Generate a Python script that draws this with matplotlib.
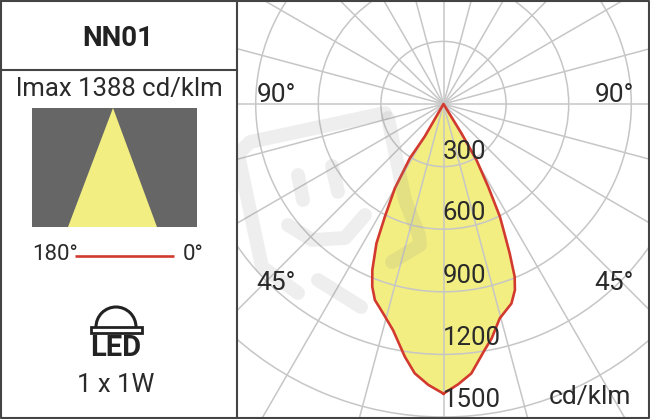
import numpy as np
import matplotlib
matplotlib.use('Agg')
import matplotlib.pyplot as plt
from matplotlib.patches import Rectangle, Polygon, Arc

plt.rcParams['font.family'] = ['Roboto', 'DejaVu Sans']

# photometric curve (degrees from nadir, cd/klm)
# right half first, going up from the nadir, then the left half back down
gamma_right = [0, 3.0, 5.9, 9.5, 11.6, 14.7, 18.8, 21, 22.4, 23.9, 25.1, 26.6, 28.4, 30.5, 31.5, 31]
intensity_right = [1388, 1345, 1298, 1195, 1147, 1062, 1010, 955, 895, 783, 693, 604, 450, 311, 165, 0]
gamma_left = [-30, -31.8, -30, -27.5, -25.7, -23.2, -21.3, -19.3, -16.1, -12.6, -8.7, -6.1, -3.1]
intensity_left = [180, 306, 466, 608, 741, 866, 940, 995, 1044, 1110, 1225, 1298, 1348]
ring_values = [300, 600, 900, 1200, 1500]
ring_labels = ['300', '600', '900', '1200', '1500']
angle_labels = ['90°', '90°', '45°', '45°']

W, H = 650, 419
cx, cy = 443.5, 104
px_per_unit = 62.6 / 300
rmax = 2400

fig = plt.figure(figsize=(W / 100, H / 100), dpi=100, facecolor='white')

# polar diagram, much bigger than the panel so only the middle shows
R = rmax * px_per_unit
ax = fig.add_axes([(cx - R) / W, 1 - (cy + R) / H, 2 * R / W, 2 * R / H],
                  projection='polar')
ax.set_theta_zero_location('S')
ax.set_rlim(0, rmax)
ax.set_thetagrids(range(0, 360, 15), labels=[])
ax.set_rgrids(ring_values, labels=[])
ax.grid(True, color='#c6c6c6', lw=1.1)
ax.spines['polar'].set_visible(False)
ax.tick_params(length=0)
theta = np.radians(gamma_right + gamma_left)
intensity = intensity_right + intensity_left
ax.fill(theta, intensity, color='#f2ee82', zorder=1)
ax.set_axisbelow(False)
ax.plot(np.append(theta, theta[0]), intensity + intensity[:1], color='#d33a2f',
        lw=1.9, zorder=4, solid_joinstyle='round')

# overlay in pixel coordinates for the frame, labels and side panel
ov = fig.add_axes([0, 0, 1, 1], facecolor='none')
ov.set_xlim(0, W)
ov.set_ylim(H, 0)
ov.axis('off')

# watermark
wm = dict(color='#8c8c8c', alpha=0.14, lw=10, solid_capstyle='round', solid_joinstyle='round')
ov.plot([385, 250, 238, 262, 298], [113, 142, 154, 267, 293], **wm)
ov.plot([388, 405, 419, 420, 392], [118, 200, 235, 245, 262], **wm)
ov.plot([298, 303], [175, 200], **wm)
ov.plot([332, 338], [166, 192], **wm)
ov.plot([288, 312, 345, 365], [225, 240, 238, 215], **wm)
ov.plot([318, 361], [280, 307], **wm)

lab = '#2a2a2a'
for v, txt, y in zip(ring_values, ring_labels, [152, 213, 276, 338, 400]):
    ov.text(464 if v < 1200 else 472, y, txt, ha='center', va='center', fontsize=18.5, color=lab)
for txt, x, y in zip(angle_labels, [276, 614, 276, 614], [95, 95, 283, 283]):
    ov.text(x, y, txt, ha='center', va='center', fontsize=19, color=lab)
ov.text(590, 397, 'cd/klm', ha='center', va='center', fontsize=19, color=lab)

# left panel
ov.add_patch(Rectangle((0, 0), 237, H, fc='white', ec='none', zorder=5))
ov.add_patch(Rectangle((32, 108), 165, 119, fc='#666666', ec='none', zorder=6))
ov.add_patch(Polygon([(113, 108), (68, 227), (157, 227)], fc='#f2ee82', ec='none', zorder=7))
ov.plot([75, 174], [255.5, 255.5], color='#d33a2f', lw=1.9, zorder=7, solid_capstyle='butt')
ov.text(118, 38, 'NN01', ha='center', va='center', fontsize=20, fontweight='bold', color='#222222', zorder=8)
ov.text(119, 89, 'lmax 1388 cd/klm', ha='center', va='center', fontsize=18.5, color=lab, zorder=8)
ov.text(55, 254, '180°', ha='center', va='center', fontsize=16, color=lab, zorder=8)
ov.text(193, 254, '0°', ha='center', va='center', fontsize=16, color=lab, zorder=8)
ov.text(116, 385, '1 x 1W', ha='center', va='center', fontsize=18.5, color=lab, zorder=8)

# LED icon
ov.add_patch(Arc((116, 327), 40, 40, theta1=180, theta2=360, ec='#222222', lw=2.2, zorder=8))
ov.add_patch(Rectangle((90.5, 327), 51, 6, fc='white', ec='#222222', lw=2, zorder=8))
ov.text(116, 348, 'LED', ha='center', va='center', fontsize=21, fontweight='bold', color='#222222', zorder=8)

# frame
frame = dict(color='#444444', lw=1.5, zorder=9)
ov.plot([1, 649, 649, 1, 1], [1, 1, 418, 418, 1], **frame)
ov.plot([237, 237], [0, H], **frame)
ov.plot([0, 237], [70.5, 70.5], **frame)

fig.savefig('out.png', dpi=100)
